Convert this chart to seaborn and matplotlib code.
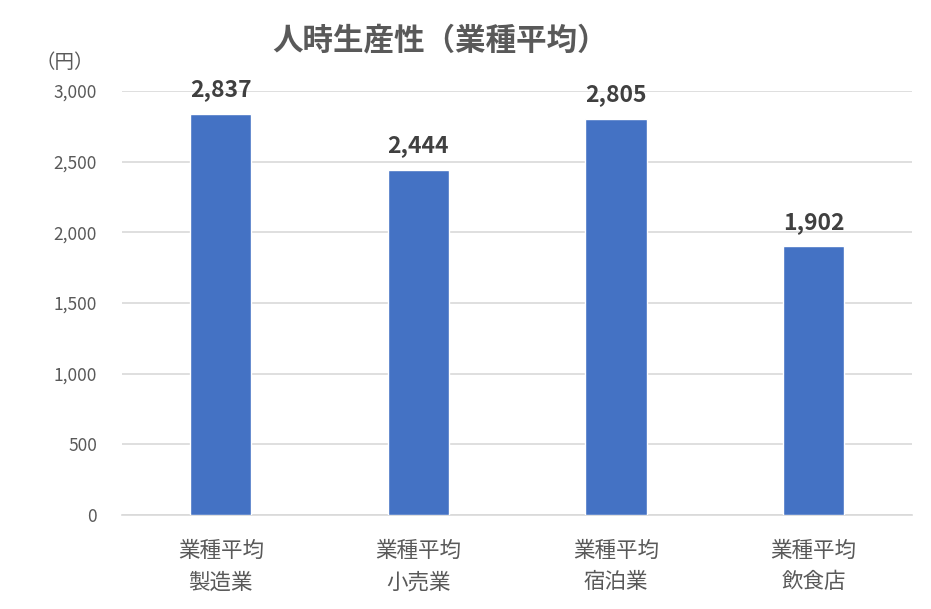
import matplotlib
matplotlib.use('Agg')
import seaborn as sns
import matplotlib.pyplot as plt
import pandas as pd

# data
categories = ['業種平均\n製造業', '業種平均\n小売業', '業種平均\n宿泊業', '業種平均\n飲食店']
values = [2837, 2444, 2805, 1902]
y_ticks = [0, 500, 1000, 1500, 2000, 2500, 3000]

df = pd.DataFrame({'category': categories, 'value': values})

sns.set_theme(style='white')
plt.rcParams['font.family'] = ['Noto Sans CJK JP', 'DejaVu Sans']

text_color = '#595959'
bar_color = '#4472C4'
grid_color = '#D9D9D9'

fig = plt.figure(figsize=(9.31, 6.09), dpi=100)
ax = fig.add_axes([0.131, 0.1544, 0.849, 0.6962])

sns.barplot(data=df, x='category', y='value', color=bar_color, width=0.31,
            saturation=1, ax=ax, zorder=3)

ax.set_ylim(0, 3000)
ax.set_yticks(y_ticks)
ax.set_yticklabels([f'{v:,}' for v in y_ticks], fontsize=12.5, color=text_color)
ax.yaxis.grid(True, color=grid_color, linewidth=1.2, zorder=0)
ax.set_axisbelow(True)
ax.tick_params(axis='both', length=0)
ax.tick_params(axis='y', pad=18)
ax.tick_params(axis='x', pad=18)
for lbl in ax.get_xticklabels():
    lbl.set_fontsize(15.5)
    lbl.set_color(text_color)
    lbl.set_linespacing(1.55)
ax.set_xlabel('')
ax.set_ylabel('')

for s in ['top', 'right', 'left']:
    ax.spines[s].set_visible(False)
ax.spines['bottom'].set_color(grid_color)
ax.spines['bottom'].set_linewidth(1.2)

# value labels
for i, v in enumerate(values):
    ax.annotate(f'{v:,}', xy=(i, v), xytext=(0, 9), textcoords='offset points',
                ha='center', va='bottom', fontsize=16.5, fontweight='bold',
                color='#404040')

fig.text(0.473, 0.934, '人時生産性（業種平均）', ha='center', va='center',
         fontsize=22, fontweight='bold', color=text_color)
fig.text(0.07, 0.898, '（円）', ha='center', va='center', fontsize=14,
         color=text_color)

fig.savefig('out.png', dpi=100, facecolor='white')
